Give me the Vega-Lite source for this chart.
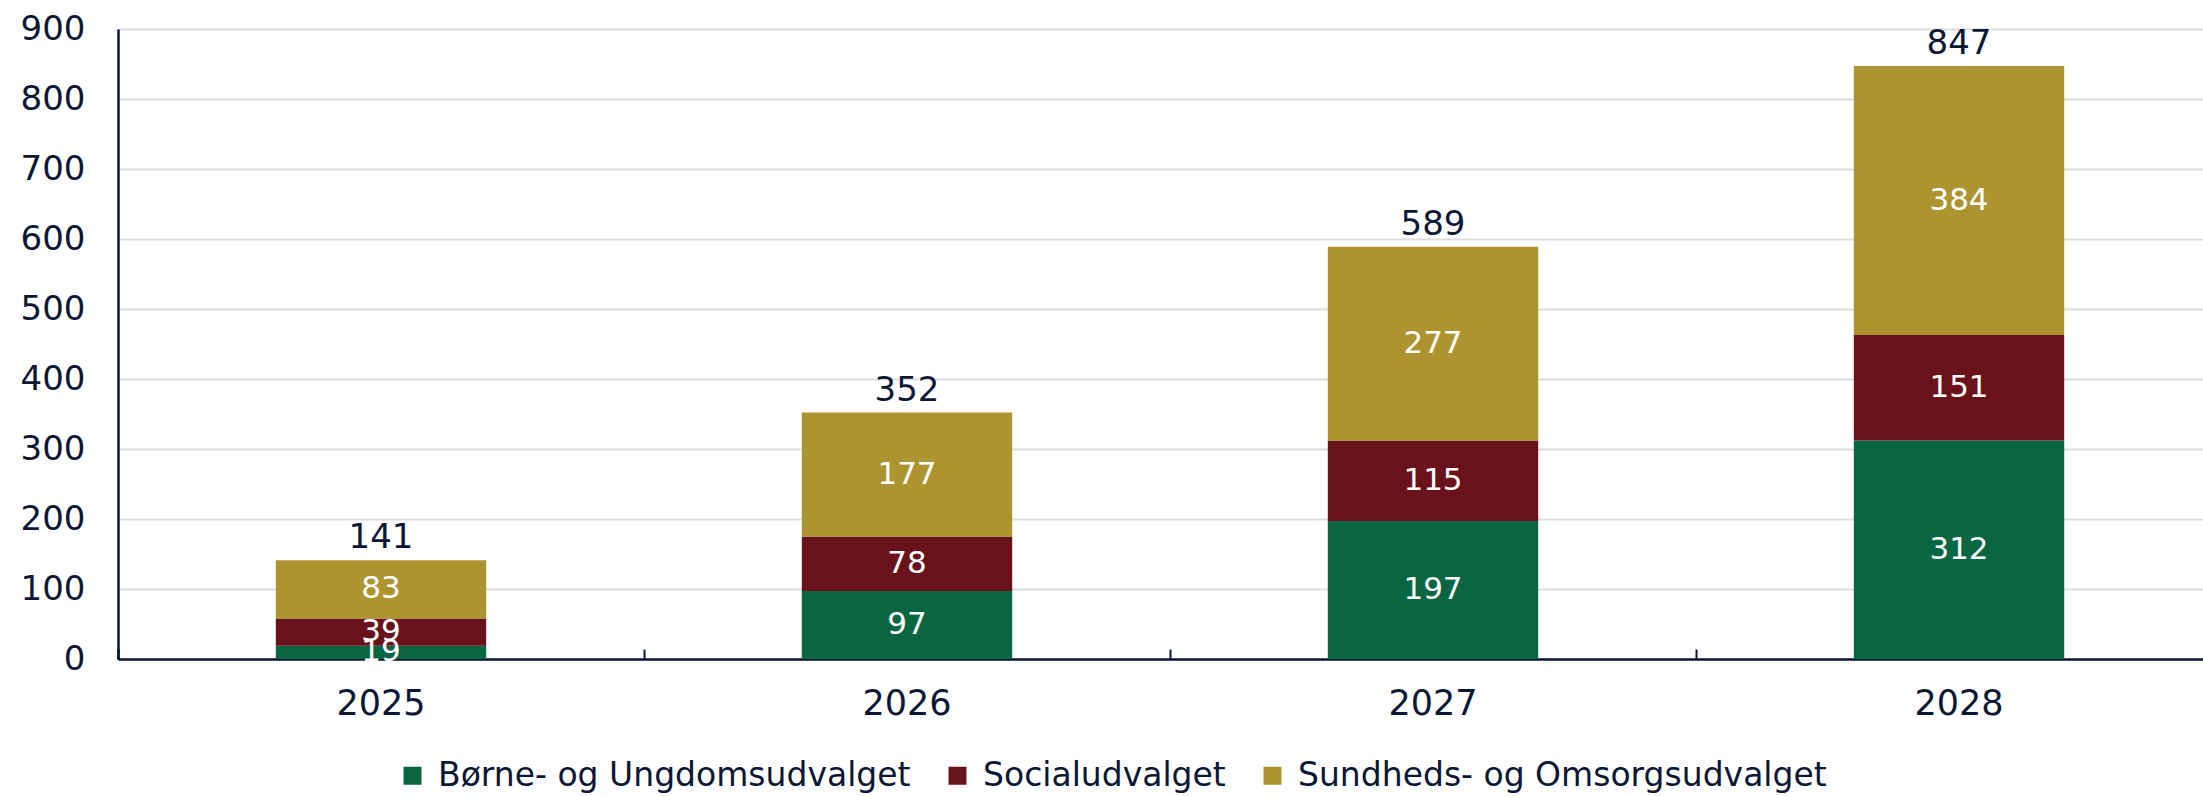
{
  "$schema": "https://vega.github.io/schema/vega-lite/v6.json",
  "width": 2104,
  "height": 630,
  "autosize": {"type": "none"},
  "padding": {"left": 118, "top": 29, "right": 0, "bottom": 137},
  "background": "white",
  "config": {"view": {"stroke": null}, "font": "DejaVu Sans"},
  "data": {
    "values": [
      {"year": "2025", "cat": "Børne- og Ungdomsudvalget", "value": 19},
      {"year": "2025", "cat": "Socialudvalget", "value": 39},
      {"year": "2025", "cat": "Sundheds- og Omsorgsudvalget", "value": 83},
      {"year": "2026", "cat": "Børne- og Ungdomsudvalget", "value": 97},
      {"year": "2026", "cat": "Socialudvalget", "value": 78},
      {"year": "2026", "cat": "Sundheds- og Omsorgsudvalget", "value": 177},
      {"year": "2027", "cat": "Børne- og Ungdomsudvalget", "value": 197},
      {"year": "2027", "cat": "Socialudvalget", "value": 115},
      {"year": "2027", "cat": "Sundheds- og Omsorgsudvalget", "value": 277},
      {"year": "2028", "cat": "Børne- og Ungdomsudvalget", "value": 312},
      {"year": "2028", "cat": "Socialudvalget", "value": 151},
      {"year": "2028", "cat": "Sundheds- og Omsorgsudvalget", "value": 384}
    ]
  },
  "resolve": {"scale": {"x": "independent"}, "axis": {"x": "independent"}},
  "layer": [
    {
      "mark": {"type": "bar"},
      "encoding": {
        "x": {
          "field": "year",
          "type": "ordinal",
          "scale": {"paddingInner": 0.6, "paddingOuter": 0.3},
          "axis": {
            "orient": "bottom",
            "title": null,
            "labelAngle": 0,
            "labelFontSize": 35,
            "labelColor": "#0b1735",
            "labelPadding": 27,
            "domainColor": "#0b1735",
            "domainWidth": 2.5,
            "ticks": false,
            "grid": false
          }
        },
        "y": {
          "field": "value",
          "type": "quantitative",
          "stack": "zero",
          "scale": {"domain": [0, 900], "nice": false},
          "axis": {
            "title": null,
            "values": [0, 100, 200, 300, 400, 500, 600, 700, 800, 900],
            "grid": true,
            "gridColor": "#dedede",
            "gridWidth": 2,
            "domain": true,
            "domainColor": "#0b1735",
            "domainWidth": 2.5,
            "ticks": false,
            "labelPadding": 33,
            "labelFontSize": 34,
            "labelColor": "#0b1735"
          }
        },
        "order": {"field": "cat", "type": "ordinal", "sort": "ascending"},
        "color": {
          "field": "cat",
          "type": "nominal",
          "scale": {
            "domain": ["Børne- og Ungdomsudvalget", "Socialudvalget", "Sundheds- og Omsorgsudvalget"],
            "range": ["#0a6543", "#6a121b", "#ad9431"]
          },
          "legend": {
            "orient": "none",
            "legendX": 278,
            "legendY": 730,
            "direction": "horizontal",
            "title": null,
            "symbolType": "square",
            "symbolSize": 324,
            "symbolStrokeWidth": 0,
            "labelFontSize": 33,
            "labelLimit": 0,
            "labelColor": "#0b1735",
            "labelOffset": 9,
            "columnPadding": 30
          }
        }
      }
    },
    {
      "mark": {"type": "text", "color": "white", "fontSize": 31},
      "encoding": {
        "x": {"field": "year", "type": "ordinal", "axis": null},
        "y": {"field": "value", "type": "quantitative", "stack": "zero", "bandPosition": 0.5},
        "order": {"field": "cat", "type": "ordinal", "sort": "ascending"},
        "detail": {"field": "cat"},
        "text": {"field": "value", "type": "quantitative"}
      }
    },
    {
      "transform": [
        {"aggregate": [{"op": "sum", "field": "value", "as": "total"}], "groupby": ["year"]}
      ],
      "mark": {"type": "text", "baseline": "bottom", "dy": -5, "fontSize": 34, "color": "#0b1735"},
      "encoding": {
        "x": {
          "field": "year",
          "type": "ordinal",
          "scale": {"type": "band", "paddingInner": 0, "paddingOuter": 0},
          "axis": {
            "orient": "bottom",
            "title": null,
            "labels": false,
            "domain": false,
            "grid": false,
            "ticks": true,
            "bandPosition": 0,
            "tickExtra": true,
            "tickSize": -10,
            "tickColor": "#0b1735",
            "tickWidth": 2
          }
        },
        "y": {"field": "total", "type": "quantitative"},
        "text": {"field": "total", "type": "quantitative"}
      }
    }
  ]
}
